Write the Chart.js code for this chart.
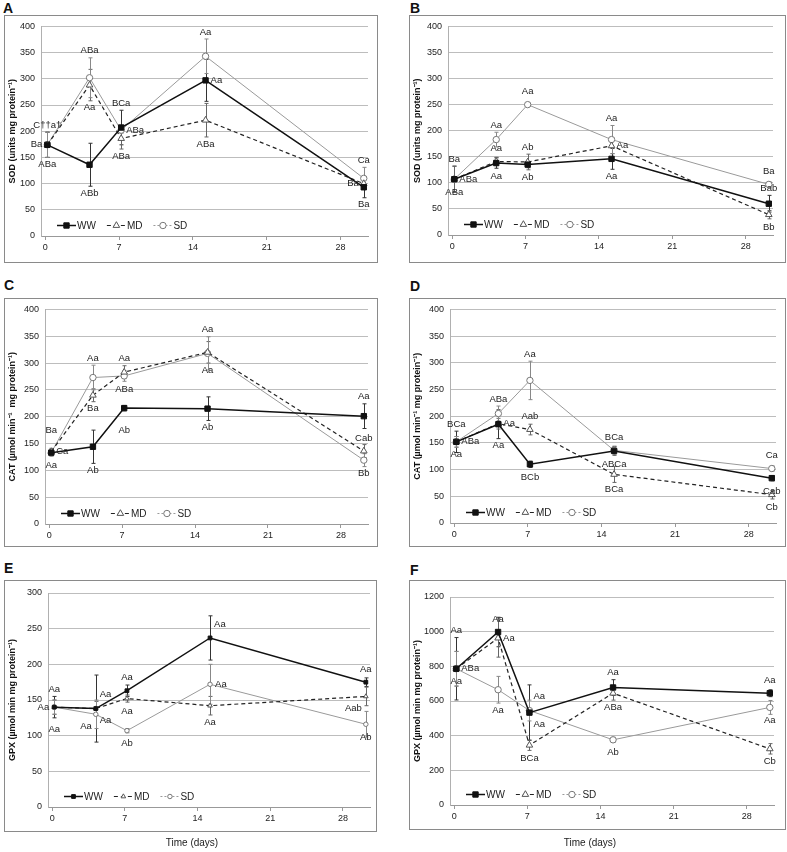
<!DOCTYPE html>
<html>
<head>
<meta charset="utf-8">
<script src="https://cdn.jsdelivr.net/npm/chart.js"></script>
<style>
body { margin: 0; background: #fff; font-family: 'Liberation Sans', Arial, sans-serif; }
#page { position: relative; width: 787px; height: 852px; overflow: hidden; }
canvas { position: absolute; outline: 1px solid #8a8a8a; outline-offset: -1px; }
.tag { position: absolute; font-weight: bold; font-size: 14px; line-height: 14px; color: #111; }
.xt { position: absolute; width: 300px; text-align: center; font-size: 10px; color: #222; }
</style>
</head>
<body>
<div id="page">
  <div class="tag" style="left:3px;top:1px">A</div>
  <div class="tag" style="left:410px;top:1px">B</div>
  <div class="tag" style="left:4px;top:278px">C</div>
  <div class="tag" style="left:410px;top:279px">D</div>
  <div class="tag" style="left:4px;top:561px">E</div>
  <div class="tag" style="left:410px;top:563px">F</div>

  <canvas id="cA" width="374" height="248" style="left:4px;top:15px"></canvas>
  <canvas id="cB" width="377" height="248" style="left:409px;top:15px"></canvas>
  <canvas id="cC" width="374" height="249" style="left:4px;top:298px"></canvas>
  <canvas id="cD" width="377" height="249" style="left:409px;top:298px"></canvas>
  <canvas id="cE" width="373" height="252" style="left:4px;top:580px"></canvas>
  <canvas id="cF" width="377" height="250" style="left:409px;top:580px"></canvas>

  <div class="xt" style="left:42px;top:837px">Time (days)</div>
  <div class="xt" style="left:440px;top:837px">Time (days)</div>
</div>

<script>
// ---- data ----
const days = [0.2, 4.2, 7.2, 15.2, 30.2];
const xTicks = [0, 7, 14, 21, 28];
const yTicks400 = [0, 50, 100, 150, 200, 250, 300, 350, 400];
const yTicks300 = [0, 50, 100, 150, 200, 250, 300];
const yTicks1200 = [0, 200, 400, 600, 800, 1000, 1200];
const names = ['WW', 'MD', 'SD'];

// A - SOD
const aWW = [174, 136, 207, 297, 93],  aWWerr = [24, 41, 33, 40, 20];
const aMD = [174, 288, 186, 221, 100], aMDerr = [24, 30, 20, 32, 10];
const aSD = [174, 302, 202, 343, 110], aSDerr = [24, 38, 6, 33, 21];
const aWWlab = ['Ba', 'ABb', 'BCa', 'Aa', 'Ba'];
const aMDlab = ['C††a†', 'Aa', 'ABa', 'ABa', 'Ba'];
const aSDlab = ['ABa', 'ABa', 'ABa', 'Aa', 'Ca'];

// B - SOD
const bWW = [107, 138, 135, 146, 60],  bWWerr = [25, 10, 6, 20, 16];
const bMD = [107, 141, 140, 171, 39],  bMDerr = [25, 8, 15, 15, 8];
const bSD = [107, 183, 250, 183, 97],  bSDerr = [0, 14, 3, 27, 5];
const bWWlab = ['Ba', 'Aa', 'Ab', 'Aa', 'Bab'];
const bMDlab = ['ABa', 'Aa', 'Ab', 'Aa', 'Bb'];
const bSDlab = ['ABa', 'Aa', 'Aa', 'Aa', 'Ba'];

// C - CAT
const cWW = [133, 144, 216, 215, 201], cWWerr = [6, 31, 5, 22, 23];
const cMD = [135, 240, 283, 320, 136], cMDerr = [6, 12, 12, 20, 12];
const cSD = [133, 273, 276, 318, 119], cSDerr = [6, 23, 10, 31, 12];
const cWWlab = ['Aa', 'Ab', 'Ab', 'Ab', 'Aa'];
const cMDlab = ['Ca', 'Ba', 'Aa', 'Aa', 'Cab'];
const cSDlab = ['Ba', 'Aa', 'ABa', 'Aa', 'Bb'];

// D - CAT
const dWW = [152, 185, 110, 135, 84],  dWWerr = [20, 27, 6, 8, 5];
const dMD = [152, 186, 175, 91, 53],   dMDerr = [10, 10, 10, 15, 8];
const dSD = [152, 205, 267, 136, 102], dSDerr = [10, 14, 36, 8, 5];
const dWWlab = ['BCa', 'Aa', 'BCb', 'ABCa', 'Cab'];
const dMDlab = ['ABa', 'Aa', 'Aab', 'BCa', 'Cb'];
const dSDlab = ['Aa', 'ABa', 'Aa', 'BCa', 'Ca'];

// E - GPX
const eWW = [140, 138, 163, 237, 175], eWWerr = [15, 47, 8, 31, 6];
const eMD = [140, 138, 152, 142, 155], eMDerr = [10, 10, 5, 13, 13];
const eSD = [140, 130, 107, 172, 116], eSDerr = [10, 20, 3, 28, 18];
const eWWlab = ['Aa', 'Aa', 'Aa', 'Aa', 'Aa'];
const eMDlab = ['Aa', 'Aa', 'Aa', 'Aa', 'Aab'];
const eSDlab = ['Aa', 'Aa', 'Ab', 'Aa', 'Ab'];

// F - GPX
const fWW = [786, 998, 533, 678, 645], fWWerr = [180, 85, 160, 45, 20];
const fMD = [786, 963, 345, 645, 324], fMDerr = [100, 110, 30, 40, 30];
const fSD = [786, 665, 545, 376, 563], fSDerr = [100, 77, 60, 15, 40];
const fWWlab = ['Aa', 'Aa', 'Aa', 'Aa', 'Aa'];
const fMDlab = ['ABa', 'Aa', 'BCa', 'ABa', 'Cb'];
const fSDlab = ['Aa', 'Aa', 'Aa', 'Ab', 'Aa'];

// where each letter label sits relative to its point
const place = {
  A: [['l','B','A','r','B'], ['A','B','B','B','l'], ['B','A','r','A','A']],
  B: [['A','B','B','B','A'], ['r','a','A','r','B'], ['b','A','a','A','a']],
  C: [['b','B','bb','B','A'], ['r','b','A','B','a'], ['aa','A','b','A','b']],
  D: [['A','B','B','b','b'], ['r','r','A','B','b'], ['b','A','A','a','a']],
  E: [['A','ar','A','ar','A'], ['l','br','B','B','bl'], ['bb','bl','b','r','b']],
  F: [['A','a','br','A','a'], ['r','r','b','B','B'], ['b','B','ar','b','b']]
};

const FONT = "'Liberation Sans', Arial, sans-serif";
Chart.defaults.font.family = FONT;

const styles = [
  { line: '#111', width: 1.5, dash: [], shape: 'rect', fill: '#111', stroke: '#111', r: 3.8, err: '#333' },
  { line: '#222', width: 1.2, dash: [4, 3], shape: 'triangle', fill: '#fff', stroke: '#555', r: 3.8, err: '#666' },
  { line: '#9a9a9a', width: 1, dash: [], legendDash: [2, 2], shape: 'circle', fill: '#fff', stroke: '#777', r: 3.2, err: '#888' }
];

// error bars, letter labels and in-plot legend
const extras = {
  id: 'extras',
  beforeDatasetsDraw(chart) {
    const { ctx, scales: { x, y } } = chart;
    ctx.save();
    ctx.lineWidth = 1;
    chart.data.datasets.forEach(ds => {
      ctx.strokeStyle = ds.errColor;
      ds.data.forEach((p, i) => {
        const e = ds.err[i];
        if (!e) return;
        const px = Math.round(x.getPixelForValue(p.x)) + 0.5;
        const t = y.getPixelForValue(p.y + e), b = y.getPixelForValue(p.y - e);
        ctx.beginPath();
        ctx.moveTo(px, t); ctx.lineTo(px, b);
        ctx.moveTo(px - 2, t); ctx.lineTo(px + 2, t);
        ctx.moveTo(px - 2, b); ctx.lineTo(px + 2, b);
        ctx.stroke();
      });
    });
    ctx.restore();
  },
  afterDatasetsDraw(chart) {
    const { ctx, chartArea: a, scales: { x, y } } = chart;
    ctx.save();
    ctx.font = '9.5px ' + FONT;
    ctx.fillStyle = '#222';
    ctx.textBaseline = 'middle';
    chart.data.datasets.forEach(ds => {
      ds.data.forEach((p, i) => {
        const px = x.getPixelForValue(p.x), py = y.getPixelForValue(p.y);
        const e = ds.err[i] || 0;
        const top = y.getPixelForValue(p.y + e), bot = y.getPixelForValue(p.y - e);
        let tx = px, ty = py, al = 'center';
        switch (ds.where[i]) {
          case 'a': ty = py - 13; break;
          case 'aa': ty = py - 22; break;
          case 'A': ty = Math.min(py - 13, top - 7); break;
          case 'b': ty = py + 13; break;
          case 'bb': ty = py + 22; break;
          case 'B': ty = Math.max(py + 13, bot + 7); break;
          case 'l': tx = px - 5; al = 'right'; break;
          case 'r': tx = px + 5; al = 'left'; break;
          case 'ar': tx = px + 4; ty = py - 14; al = 'left'; break;
          case 'br': tx = px + 4; ty = py + 12; al = 'left'; break;
          case 'bl': tx = px - 4; ty = py + 12; al = 'right'; break;
        }
        ctx.textAlign = al;
        ctx.fillText(ds.tags[i], tx, ty);
      });
    });

    // legend inside the plot, bottom left
    let lx = a.left + 16;
    const ly = a.bottom - 11;
    ctx.font = '10px ' + FONT;
    ctx.textAlign = 'left';
    chart.data.datasets.forEach(ds => {
      ctx.strokeStyle = ds.borderColor;
      ctx.lineWidth = ds.borderWidth;
      ctx.setLineDash(ds.legendDash || ds.borderDash || []);
      ctx.beginPath();
      ctx.moveTo(lx, ly + 0.5); ctx.lineTo(lx + 19, ly + 0.5);
      ctx.stroke();
      ctx.setLineDash([]);
      drawMarker(ctx, ds.pointStyle, lx + 9.5, ly + 0.5, ds.pointRadius, ds.pointBackgroundColor, ds.pointBorderColor);
      ctx.fillStyle = '#222';
      ctx.fillText(ds.label, lx + 20, ly + 1);
      lx += 20 + ctx.measureText(ds.label).width + 11;
    });
    ctx.restore();
  }
};

function drawMarker(ctx, shape, cx, cy, r, fill, stroke) {
  ctx.save();
  ctx.fillStyle = fill;
  ctx.strokeStyle = stroke;
  ctx.lineWidth = 1;
  ctx.beginPath();
  if (shape === 'rect') {
    const s = r * Math.SQRT1_2;
    ctx.rect(cx - s, cy - s, 2 * s, 2 * s);
  } else if (shape === 'triangle') {
    ctx.moveTo(cx, cy - r);
    ctx.lineTo(cx + r * 0.866, cy + r * 0.5);
    ctx.lineTo(cx - r * 0.866, cy + r * 0.5);
    ctx.closePath();
  } else {
    ctx.arc(cx, cy, r, 0, Math.PI * 2);
  }
  ctx.fill();
  ctx.stroke();
  ctx.restore();
}

function makePanel(id, plot, yTicks, yTitle, series, key, scale) {
  const cv = document.getElementById(id);
  const [L, T, R, B] = plot;
  const datasets = series.map((s, k) => {
    const st = styles[k];
    return {
      label: names[k],
      data: days.map((d, i) => ({ x: d, y: s[0][i] })),
      err: s[1],
      tags: s[2],
      where: place[key][k],
      errColor: st.err,
      borderColor: st.line,
      borderWidth: st.width,
      borderDash: st.dash,
      legendDash: st.legendDash,
      tension: 0,
      pointStyle: st.shape,
      pointRadius: st.r * scale,
      pointBackgroundColor: st.fill,
      pointBorderColor: st.stroke,
      pointBorderWidth: 1
    };
  });
  new Chart(cv, {
    type: 'line',
    data: { datasets },
    plugins: [extras],
    options: {
      responsive: false,
      animation: false,
      events: [],
      layout: { padding: { left: 0, top: T, right: cv.width - R, bottom: cv.height - B - 20 } },
      plugins: { legend: { display: false }, tooltip: { enabled: false } },
      scales: {
        x: {
          type: 'linear',
          min: -0.4, max: 30.6,
          afterBuildTicks: sc => { sc.ticks = xTicks.map(v => ({ value: v })); },
          afterFit: sc => { sc.height = 20; },
          grid: { drawOnChartArea: false, drawTicks: true, tickLength: 4, color: '#999' },
          border: { color: '#999' },
          ticks: { font: { size: 9 }, color: '#222', padding: 2, maxRotation: 0, autoSkip: false, callback: v => String(v) }
        },
        y: {
          min: yTicks[0], max: yTicks[yTicks.length - 1],
          afterBuildTicks: sc => { sc.ticks = yTicks.map(v => ({ value: v })); },
          afterFit: sc => { sc.width = L; },
          grid: { color: '#bdbdbd', drawTicks: false },
          border: { color: '#b0b0b0' },
          ticks: { font: { size: 9 }, color: '#222', padding: 6, callback: v => String(v) },
          title: { display: true, text: yTitle, color: '#111', font: { size: 9, weight: 'bold' }, padding: { top: 3, bottom: 0 } }
        }
      }
    }
  });
}

makePanel('cA', [37, 10, 364, 221], yTicks400, 'SOD (units mg protein⁻¹)',
  [[aWW, aWWerr, aWWlab], [aMD, aMDerr, aMDlab], [aSD, aSDerr, aSDlab]], 'A', 1);
makePanel('cB', [39, 10, 364, 220], yTicks400, 'SOD (units mg protein⁻¹)',
  [[bWW, bWWerr, bWWlab], [bMD, bMDerr, bMDlab], [bSD, bSDerr, bSDlab]], 'B', 1);
makePanel('cC', [41, 10, 364, 226], yTicks400, 'CAT (µmol min⁻¹  mg protein⁻¹)',
  [[cWW, cWWerr, cWWlab], [cMD, cMDerr, cMDlab], [cSD, cSDerr, cSDlab]], 'C', 1);
makePanel('cD', [41, 10, 367, 225], yTicks400, 'CAT (µmol min⁻¹ mg protein⁻¹)',
  [[dWW, dWWerr, dWWlab], [dMD, dMDerr, dMDlab], [dSD, dSDerr, dSDlab]], 'D', 1);
makePanel('cE', [44, 13, 366, 227], yTicks300, 'GPX (µmol min mg protein⁻¹)',
  [[eWW, eWWerr, eWWlab], [eMD, eMDerr, eMDlab], [eSD, eSDerr, eSDlab]], 'E', 0.7);
makePanel('cF', [41, 17, 365, 225], yTicks1200, 'GPX (µmol min mg protein⁻¹)',
  [[fWW, fWWerr, fWWlab], [fMD, fMDerr, fMDlab], [fSD, fSDerr, fSDlab]], 'F', 1);
</script>
</body>
</html>
